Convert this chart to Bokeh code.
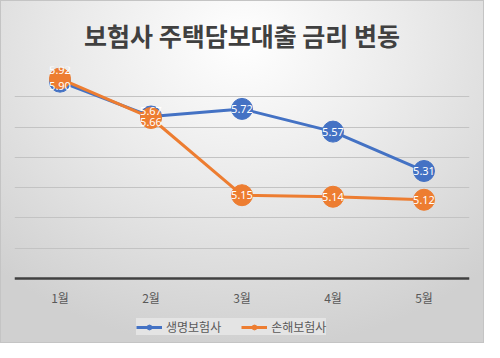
from bokeh.plotting import figure
from bokeh.models import Legend, LegendItem, FixedTicker, ColumnDataSource
from bokeh.core.properties import value
from bokeh.embed import file_html
from bokeh.resources import INLINE

months = ["1월", "2월", "3월", "4월", "5월"]
life = [5.90, 5.67, 5.72, 5.57, 5.31]
nonlife = [5.92, 5.66, 5.15, 5.14, 5.12]
life_name = "생명보험사"
nonlife_name = "손해보험사"
title_text = "보험사 주택담보대출 금리 변동"
y_ticks = [4.6, 4.8, 5.0, 5.2, 5.4, 5.6, 5.8, 6.0]
y_base, y_top = 4.6, 6.0

# label nudges (screen px) to avoid overlaps, like the original
life_dy = [4, -5, 0, 0, 0]
nonlife_dy = [-9, 4, 0, 0, 0]

BLUE = "#4472C4"
ORANGE = "#ED7D31"
KFONT = "Noto Sans CJK KR"

PLOT_H = 212      # pixels between 6.0 and 4.6
EXTRA_H = 65      # room under the axis for tick labels + legend
y_min = y_base - (y_top - y_base) * EXTRA_H / PLOT_H

p = figure(frame_width=455, frame_height=PLOT_H + EXTRA_H, x_range=months, y_range=(y_min, y_top),
           output_backend="svg", toolbar_location=None,
           min_border_left=14, min_border_right=15, min_border_top=65, min_border_bottom=0)
p.styles = {"background-image": "radial-gradient(ellipse 75% 90% at 50% 12%, #ffffff 0%, #ebebeb 45%, #d0d0d0 100%)",
            "outline": "1px solid #c4c4c4", "outline-offset": "-1px"}
p.border_fill_alpha = 0
p.background_fill_alpha = 0
p.outline_line_alpha = 0

p.title.text = title_text
p.title.align = "center"
p.title.text_font = KFONT
p.title.text_font_size = "25px"
p.title.text_font_style = "bold"
p.title.text_color = "#404040"
p.title.text_line_height = 1.0
p.title.standoff = 28

src_l = ColumnDataSource(dict(x=months, y=life, t=[f"{v:.2f}" for v in life], dy=life_dy))
src_n = ColumnDataSource(dict(x=months, y=nonlife, t=[f"{v:.2f}" for v in nonlife], dy=nonlife_dy))

rl = p.line("x", "y", source=src_l, line_color=BLUE, line_width=3)
sl = p.scatter("x", "y", source=src_l, size=21, fill_color=BLUE, line_color=BLUE)
rn = p.line("x", "y", source=src_n, line_color=ORANGE, line_width=3)
sn = p.scatter("x", "y", source=src_n, size=21, fill_color=ORANGE, line_color=ORANGE)

for src in (src_l, src_n):
    p.text("x", "y", text="t", source=src, y_offset="dy", text_align="center",
           text_baseline="middle", text_color="white", text_font=value("Noto Sans"),
           text_font_size="11px")

legend = Legend(items=[LegendItem(label=life_name, renderers=[rl, sl]),
                       LegendItem(label=nonlife_name, renderers=[rn, sn])],
                orientation="horizontal", location=(122, 8))
legend.label_text_font = KFONT
legend.label_text_font_size = "12px"
legend.label_text_color = "#595959"
legend.background_fill_color = "#e4e4e4"
legend.background_fill_alpha = 1
legend.border_line_color = None
legend.glyph_width = 26
legend.glyph_height = 12
legend.label_standoff = 4
legend.spacing = 20
legend.padding = 6
legend.margin = 0
p.add_layout(legend, "center")

p.yaxis.visible = False
p.ygrid.ticker = FixedTicker(ticks=y_ticks)
p.ygrid.grid_line_color = "#c3c3c3"
p.ygrid.grid_line_width = 1
p.xgrid.visible = False

p.xaxis.fixed_location = y_base
p.xaxis.axis_line_color = "#404040"
p.xaxis.axis_line_width = 2.5
p.xaxis.major_tick_line_color = None
p.xaxis.minor_tick_line_color = None
p.xaxis.major_tick_out = 0
p.xaxis.major_tick_in = 0
p.xaxis.major_label_text_font = KFONT
p.xaxis.major_label_text_font_size = "12px"
p.xaxis.major_label_text_color = "#595959"
p.xaxis.major_label_standoff = 10

open("out.html", "w").write(file_html(p, INLINE))
